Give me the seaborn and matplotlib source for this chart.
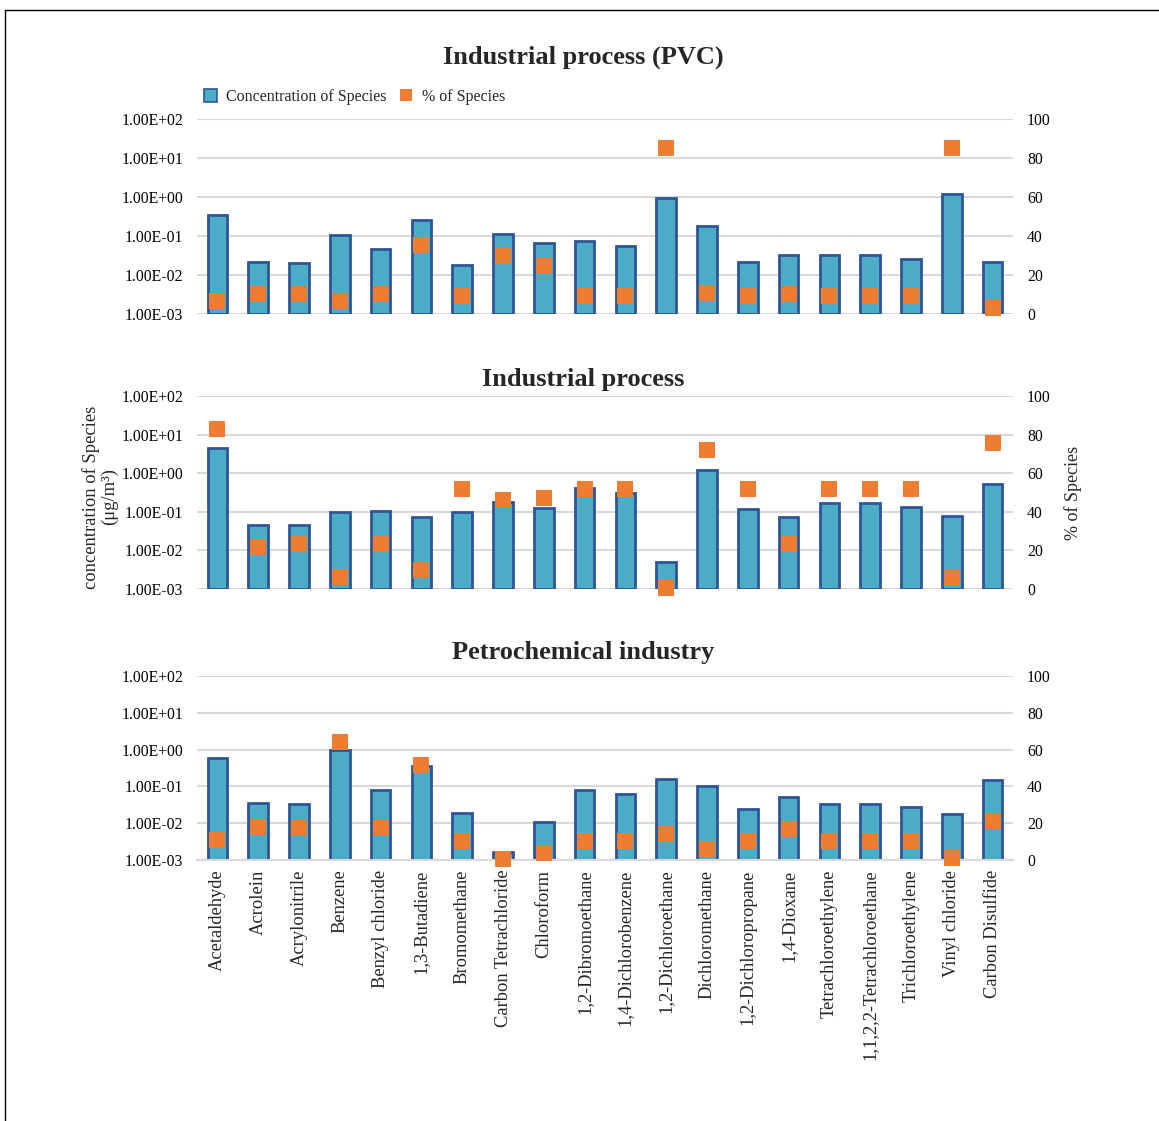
import numpy as np
import pandas as pd
import matplotlib
matplotlib.use("Agg")
import matplotlib.pyplot as plt
from matplotlib.lines import Line2D
from matplotlib.patches import Patch
from matplotlib.ticker import NullLocator
import seaborn as sns

# ---- data -----------------------------------------------------------------
species = [
    "Acetaldehyde", "Acrolein", "Acrylonitrile", "Benzene", "Benzyl chloride",
    "1,3-Butadiene", "Bromomethane", "Carbon Tetrachloride", "Chloroform",
    "1,2-Dibromoethane", "1,4-Dichlorobenzene", "1,2-Dichloroethane",
    "Dichloromethane", "1,2-Dichloropropane", "1,4-Dioxane",
    "Tetrachloroethylene", "1,1,2,2-Tetrachloroethane", "Trichloroethylene",
    "Vinyl chloride", "Carbon Disulfide",
]

pvc_conc = [0.34, 0.021, 0.020, 0.105, 0.047, 0.25, 0.018, 0.114, 0.067, 0.073,
            0.057, 0.96, 0.184, 0.0215, 0.032, 0.032, 0.032, 0.025, 1.17, 0.021]
pvc_pct = [6.5, 10.3, 10.3, 6.7, 10.3, 35.3, 9.4, 30.4, 24.5, 9.4,
           9.4, 85.3, 10.9, 9.4, 10.3, 9.4, 9.4, 9.4, 85.1, 3.1]

ind_conc = [4.4, 0.045, 0.046, 0.100, 0.108, 0.072, 0.100, 0.178, 0.129, 0.41,
            0.31, 0.0051, 1.2, 0.117, 0.072, 0.174, 0.174, 0.137, 0.077, 0.51]
ind_pct = [82.8, 22.0, 23.4, 6.4, 23.4, 10.1, 51.7, 46.2, 46.9, 51.7,
           51.6, 0.5, 72.0, 51.6, 23.4, 51.6, 51.6, 51.6, 5.5, 75.6]

petro_conc = [0.58, 0.035, 0.033, 1.0, 0.079, 0.365, 0.0194, 0.0017, 0.011, 0.079,
              0.061, 0.162, 0.105, 0.0236, 0.053, 0.034, 0.034, 0.028, 0.0176, 0.146]
petro_pct = [11.1, 17.7, 17.2, 64.0, 17.2, 51.6, 10.2, 0.5, 4.0, 10.2,
             10.2, 14.2, 6.2, 10.2, 17.1, 10.2, 10.2, 10.2, 1.3, 21.1]

panel_titles = ["Industrial process (PVC)", "Industrial process", "Petrochemical industry"]
conc_ticks = [1e-3, 1e-2, 1e-1, 1e0, 1e1, 1e2]
conc_tick_labels = ["1.00E-03", "1.00E-02", "1.00E-01", "1.00E+00", "1.00E+01", "1.00E+02"]
pct_ticks = [0, 20, 40, 60, 80, 100]

# ---- style ----------------------------------------------------------------
BAR = "#4BACC6"
EDGE = "#2F5597"
ORANGE = "#ED7D31"
GRID = "#D9D9D9"

sns.set_theme(style="white")
plt.rcParams["font.family"] = ["Liberation Serif", "DejaVu Serif"]

W, H = 1159, 1121
fig = plt.figure(figsize=(W / 100, H / 100), dpi=100)

# axes boxes in pixel rows (1E+02 line, 1E-03 line)
rows = [(119, 314), (396, 589), (676, 860)]
title_y = [57, 379, 652]
left_px, right_px = 197, 1013
log_floor = conc_ticks[0]

datasets = [(pvc_conc, pvc_pct), (ind_conc, ind_pct), (petro_conc, petro_pct)]

for i, ((top, bot), (conc, pct)) in enumerate(zip(rows, datasets)):
    ax = fig.add_axes([left_px / W, 1 - bot / H, (right_px - left_px) / W, (bot - top) / H])
    ax.set_yscale("log")
    df = pd.DataFrame({"species": species, "conc": conc, "pct": pct,
                       "pos": np.arange(len(species))})
    sns.barplot(data=df, x="species", y="conc", ax=ax, color=BAR, saturation=1,
                edgecolor=EDGE, linewidth=2, width=0.48, errorbar=None)
    # let each bar start on the lowest gridline so its bottom outline shows
    for p in ax.patches:
        top_val = p.get_y() + p.get_height()
        p.set_y(log_floor)
        p.set_height(top_val - log_floor)
    ax.set_ylim(1e-3, 1e2)
    ax.set_xlim(-0.5, len(species) - 0.5)
    ax.set_yticks(conc_ticks)
    ax.set_yticklabels(conc_tick_labels)
    ax.yaxis.set_minor_locator(NullLocator())
    ax.yaxis.grid(True, color=GRID, linewidth=1.5)
    ax.set_axisbelow(True)
    ax.tick_params(axis="y", length=0, pad=10, labelsize=11.3, colors="black")
    ax.set_xlabel("")
    ax.set_ylabel("")
    for s in ax.spines.values():
        s.set_visible(False)

    if i == 2:
        ax.set_xticks(np.arange(len(species)))
        ax.set_xticklabels(species, rotation=90, fontsize=13.3, ha="center", va="top")
        ax.set_xticks(np.arange(-0.5, len(species), 1), minor=True)
        ax.tick_params(axis="x", which="major", length=0, pad=7)
        ax.tick_params(axis="x", which="minor", length=6, width=1.2, color=GRID)
        ax.spines["bottom"].set_visible(True)
        ax.spines["bottom"].set_color(GRID)
        ax.spines["bottom"].set_linewidth(1.5)
    else:
        ax.set_xticks([])

    ax2 = ax.twinx()
    sns.scatterplot(data=df, x="pos", y="pct", ax=ax2, marker="s", s=120,
                    color=ORANGE, linewidth=0, clip_on=False, zorder=5, legend=False)
    ax2.set_ylim(0, 100)
    ax2.set_xlim(-0.5, len(species) - 0.5)
    ax2.set_yticks(pct_ticks)
    ax2.tick_params(axis="y", length=0, pad=10, labelsize=11.3, colors="black")
    ax2.set_xlabel("")
    ax2.set_ylabel("")
    ax2.grid(False)
    for s in ax2.spines.values():
        s.set_visible(False)

    fig.text(583 / W, 1 - title_y[i] / H, panel_titles[i], ha="center", va="center",
             fontsize=19, fontweight="bold")

# legend above the first panel
handles = [Patch(facecolor=BAR, edgecolor=EDGE, linewidth=1.2),
           Line2D([], [], marker="s", linestyle="none", color=ORANGE,
                  markersize=9, markeredgewidth=0)]
fig.legend(handles, ["Concentration of Species", "% of Species"],
           loc="center left", bbox_to_anchor=(196 / W, 1 - 97 / H), ncol=2,
           frameon=False, fontsize=11.5, handlelength=0.8, handleheight=0.8,
           handletextpad=0.6, columnspacing=0.8, borderpad=0)

# axis titles
fig.text(100 / W, 1 - 497 / H, "concentration of Species\n(\u03bcg/m\u00b3)",
         rotation=90, ha="center", va="center", fontsize=13.4, linespacing=1.05)
fig.text(1073 / W, 1 - 493 / H, "% of Species", rotation=90,
         ha="center", va="center", fontsize=13)

# outer frame
fig.add_artist(Line2D([5 / W, 1], [1 - 10 / H, 1 - 10 / H], color="black",
                      linewidth=1, transform=fig.transFigure))
fig.add_artist(Line2D([5 / W, 5 / W], [0, 1 - 10 / H], color="black",
                      linewidth=1, transform=fig.transFigure))

fig.savefig("out.png", dpi=100)
